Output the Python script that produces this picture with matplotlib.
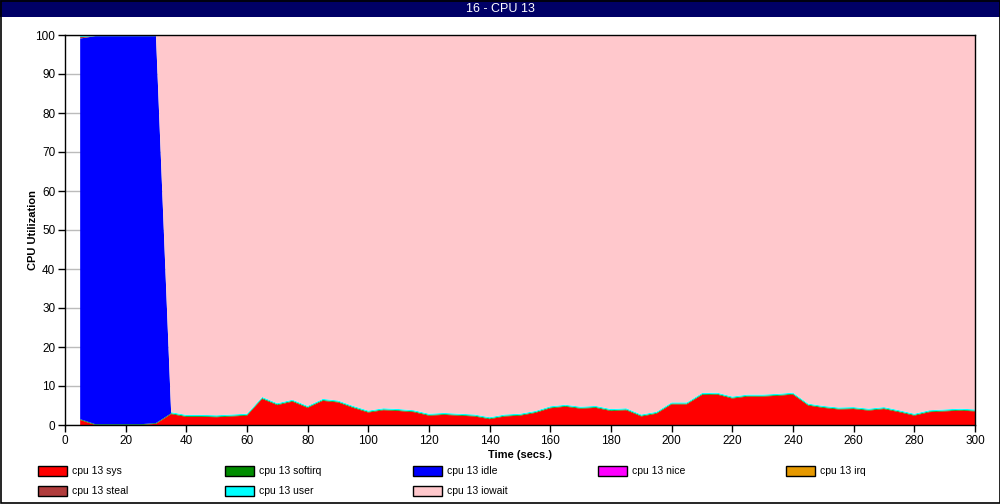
import matplotlib
matplotlib.use('Agg')
import matplotlib.pyplot as plt
import numpy as np
from matplotlib.patches import Rectangle

plt.rcParams['font.family'] = ['Liberation Sans', 'DejaVu Sans']

# ---------------- data ----------------
times = np.arange(5, 301, 5)

cpu_sys = [1.3, 0.0, 0.0, 0.0, 0.0, 0.3, 2.8, 2.1, 2.1, 2.0,
           2.2, 2.4, 6.7, 5.1, 6.0, 4.4, 6.2, 5.8, 4.4, 3.2,
           3.8, 3.6, 3.3, 2.4, 2.6, 2.4, 2.2, 1.5, 2.2, 2.4,
           3.1, 4.3, 4.7, 4.2, 4.4, 3.6, 3.8, 2.2, 2.9, 5.3,
           5.3, 7.7, 7.8, 6.8, 7.3, 7.3, 7.5, 7.8, 5.0, 4.4,
           4.0, 4.1, 3.7, 4.1, 3.3, 2.4, 3.3, 3.5, 3.7, 3.5]
cpu_softirq = [0.2] * 60
cpu_idle = [97.6, 99.5, 99.5, 99.5, 99.5, 99.2] + [0.0] * 54
cpu_nice = [0.0] * 60
cpu_irq = [0.0] * 60
cpu_steal = [0.4] + [0.0] * 59
cpu_user = [0.3] * 60
cpu_iowait = [100 - (a + b + c + d + e + f + g) for a, b, c, d, e, f, g in
              zip(cpu_sys, cpu_softirq, cpu_idle, cpu_nice, cpu_irq, cpu_steal, cpu_user)]

labels = ['cpu 13 sys', 'cpu 13 softirq', 'cpu 13 idle', 'cpu 13 nice',
          'cpu 13 irq', 'cpu 13 steal', 'cpu 13 user', 'cpu 13 iowait']
colors = ['#ff0000', '#008c00', '#0000ff', '#ff00ff',
          '#e69900', '#b03c3c', '#00ffff', '#ffc8cc']

# ---------------- figure ----------------
fig = plt.figure(figsize=(10, 5.04), dpi=100)

# title bar
fig.patches.append(Rectangle((0, 1 - 17 / 504), 1, 17 / 504, transform=fig.transFigure,
                             facecolor='#000066', edgecolor='none', zorder=0))
fig.patches.append(Rectangle((0.0005, 0.001), 0.999, 0.998, transform=fig.transFigure,
                             facecolor='none', edgecolor='black', linewidth=1.2, zorder=5))
fig.text(0.5, 1 - 8.5 / 504, '16 - CPU 13', color='white', fontsize=9,
         ha='center', va='center')

ax = fig.add_axes([0.065, 1 - 425 / 504, 0.91, 390 / 504])
ax.stackplot(times, cpu_sys, cpu_softirq, cpu_idle, cpu_nice, cpu_irq,
             cpu_steal, cpu_user, cpu_iowait, colors=colors, linewidth=0,
             zorder=2)

ax.set_xlim(0, 300)
ax.set_ylim(0, 100)
ax.set_xticks(np.arange(0, 301, 20))
ax.set_yticks(np.arange(0, 101, 10))
ax.yaxis.grid(True, color='#bbbbbb', linewidth=1, zorder=0)
ax.set_axisbelow(True)
ax.tick_params(direction='out', length=5, labelsize=8.5, width=1, pad=2)
for s in ax.spines.values():
    s.set_linewidth(1)
ax.set_xlabel('Time (secs.)', fontsize=8, fontweight='bold', labelpad=2)
ax.set_ylabel('CPU Utilization', fontsize=8, fontweight='bold')
ax.yaxis.set_label_coords(-0.03, 0.5)

# legend
col_x = [38, 225, 413, 598, 786]
row_y = [471, 491]
for i, (lab, col) in enumerate(zip(labels, colors)):
    r, c = divmod(i, 5)
    x0 = col_x[c] / 1000
    y0 = 1 - (row_y[r] + 5) / 504
    fig.patches.append(Rectangle((x0, y0), 29 / 1000, 10 / 504, transform=fig.transFigure,
                                 facecolor=col, edgecolor='black', linewidth=1))
    fig.text(x0 + 34 / 1000, 1 - row_y[r] / 504, lab, fontsize=7.5,
             ha='left', va='center')

fig.savefig('out.png', dpi=100)
